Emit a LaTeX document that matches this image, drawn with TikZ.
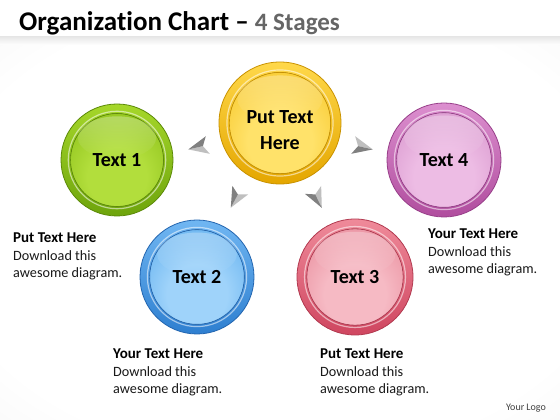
\documentclass[tikz,border=0pt]{standalone}
\usepackage{fontspec}
\setmainfont{Carlito}[Ligatures=NoCommon]
\usetikzlibrary{calc,fadings}
\colorlet{bl}{white}\colorlet{bd}{black}
\pgfdeclareradialshading[bl,bd]{glossy}{\pgfpoint{0bp}{-12bp}}{color(0bp)=(bl); color(16bp)=(bl); color(46bp)=(bd); color(70bp)=(bd)}
\pgfdeclareradialshading{bgsh}{\pgfpoint{0bp}{0bp}}{color(0bp)=(white); color(30bp)=(white); color(50bp)=(black!6); color(72bp)=(black!12)}
\definecolor{gRimT}{HTML}{A6D72A}\definecolor{gRimB}{HTML}{6EA40C}\definecolor{gIn}{HTML}{B2DE3C}\definecolor{gOut}{HTML}{7DB40A}\definecolor{gEdge}{HTML}{5C8A08}
\definecolor{yRimT}{HTML}{FFD84A}\definecolor{yRimB}{HTML}{E4A600}\definecolor{yIn}{HTML}{FFE26A}\definecolor{yOut}{HTML}{F4BC0E}\definecolor{yEdge}{HTML}{C99200}
\definecolor{pRimT}{HTML}{DC8FCF}\definecolor{pRimB}{HTML}{B04D9E}\definecolor{pIn}{HTML}{EDBCE4}\definecolor{pOut}{HTML}{D088C4}\definecolor{pEdge}{HTML}{98408A}
\definecolor{bRimT}{HTML}{70B6F2}\definecolor{bRimB}{HTML}{2E7FD0}\definecolor{bIn}{HTML}{9FD3FA}\definecolor{bOut}{HTML}{4AA2EA}\definecolor{bEdge}{HTML}{2466B0}
\definecolor{rRimT}{HTML}{EF8A9A}\definecolor{rRimB}{HTML}{CF4660}\definecolor{rIn}{HTML}{F6BAC4}\definecolor{rOut}{HTML}{E37A8C}\definecolor{rEdge}{HTML}{B23A50}
\newcommand\glossybubble[9]{%
  \colorlet{bl}{#6}\colorlet{bd}{#7}%
  \node[circle, minimum size={2*#3pt}, inner sep=0pt, draw=#8, line width=0.8pt, top color=#4, bottom color=#5] (#1) at (#2) {};
  \draw[white, opacity=0.55, line width=1.2pt] (#1.center) circle[radius={0.87*#3pt}];
  \fill[shading=glossy] (#1.center) circle[radius={0.83*#3pt}];
  \draw[#8, line width=0.6pt] (#1.center) circle[radius={0.83*#3pt}];
  \fill[white, path fading=south, fill opacity=0.28] ($(#1.center)+(0,{0.4*#3})$) ellipse[x radius={0.7*#3pt}, y radius={0.38*#3pt}];
}
\newcommand\chevron[2]{%
  \begin{scope}[shift={(#1)}, rotate=#2]
    \fill[black!25] (11,0) -- (-9,9) -- (-4,0) -- cycle;
    \fill[black!50] (11,0) -- (-4,0) -- (-9,-9) -- cycle;
  \end{scope}}
\begin{document}
\begin{tikzpicture}[x=1pt,y=1pt,
  lbl/.style={font=\fontsize{20}{26}\selectfont\bfseries, text=black, align=center, inner sep=0pt},
  desc/.style={anchor=north west, inner sep=0pt, align=left, font=\fontsize{14.2}{17.5}\selectfont, text=black!90}]
\useasboundingbox (0,0) rectangle (560,420);
\fill[white] (0,0) rectangle (560,420);
\shade[shading=bgsh] (0,0) rectangle (560,382);
\shade[top color=black!9, bottom color=white, draw=none] (0,375) rectangle (560,383);
\node[anchor=base west, inner sep=0pt, font=\fontsize{27}{30}\selectfont\bfseries] (title) at (19,389) {Organization Chart –\ {\color{black!60}\fontsize{25}{28}\selectfont 4 Stages}};

\glossybubble{ctr}{280,297}{61}{yRimT}{yRimB}{yIn}{yOut}{yEdge}{}
\glossybubble{t1}{117,260}{56}{gRimT}{gRimB}{gIn}{gOut}{gEdge}{}
\glossybubble{t4}{444,260}{57}{pRimT}{pRimB}{pIn}{pOut}{pEdge}{}
\glossybubble{t2}{197,143}{57}{bRimT}{bRimB}{bIn}{bOut}{bEdge}{}
\glossybubble{t3}{355,143}{58}{rRimT}{rRimB}{rIn}{rOut}{rEdge}{}
\node[lbl] (lc) at ($(ctr)+(0,-7)$) {Put Text\\Here};
\node[lbl] (l1) at (t1) {Text 1};
\node[lbl] (l4) at (t4) {Text 4};
\node[lbl] (l2) at (t2) {Text 2};
\node[lbl] (l3) at (t3) {Text 3};

\chevron{199,273}{192.8}
\chevron{362,273}{-12.7}
\chevron{236,222}{241.7}
\chevron{317,222}{-64}

\node[desc] (d1) at (13,187) {\textcolor{black}{\fontsize{15}{17.5}\selectfont\bfseries Put Text Here}\\Download this\\awesome diagram.};
\node[desc] (d2) at (113,71) {\textcolor{black}{\fontsize{15}{17.5}\selectfont\bfseries Your Text Here}\\Download this\\awesome diagram.};
\node[desc] (d3) at (320,71) {\textcolor{black}{\fontsize{15}{17.5}\selectfont\bfseries Put Text Here}\\Download this\\awesome diagram.};
\node[desc] (d4) at (428,191) {\textcolor{black}{\fontsize{15}{17.5}\selectfont\bfseries Your Text Here}\\Download this\\awesome diagram.};

\node[font=\fontsize{10}{12}\selectfont, text=black!75] (logo) at (526,12) {Your Logo};
\end{tikzpicture}
\end{document}
